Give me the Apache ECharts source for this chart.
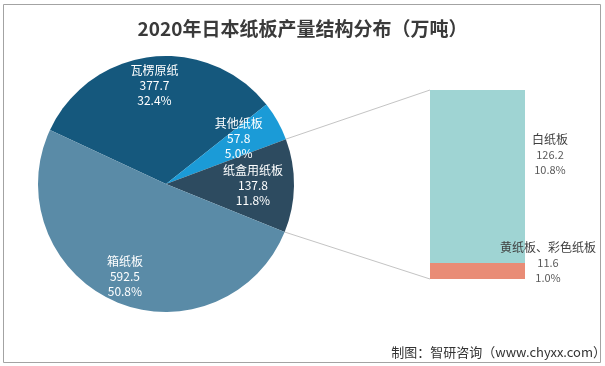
<!DOCTYPE html>
<html><head><meta charset="utf-8">
<script src="https://cdn.jsdelivr.net/npm/echarts@6/dist/echarts.min.js"></script>
<style>html,body{margin:0;padding:0;background:#fff}#c{width:605px;height:366px}</style>
</head><body><div id="c"></div>
<script>
// ---- data ----
const pieNames = ['瓦楞原纸', '其他纸板', '纸盒用纸板', '箱纸板'];
const pieValues = [377.7, 57.8, 137.8, 592.5];
const piePercents = ['32.4%', '5.0%', '11.8%', '50.8%'];
const barNames = ['黄纸板、彩色纸板', '白纸板'];
const barValues = [11.6, 126.2];
const barPercents = ['1.0%', '10.8%'];
const titleText = '2020年日本纸板产量结构分布（万吨）';
const sourceText = '制图：智研咨询（www.chyxx.com）';
const detailIndex = 2; // slice broken down in the bar

// ---- style / layout ----
const FONT = '"Noto Sans CJK SC", "Noto Sans", sans-serif';
const pieColors = ['#15587d', '#1b9bd7', '#2d4b60', '#5a8ba7'];
const barColors = ['#e98c76', '#9fd4d3'];
const CX = 166, CY = 184, R = 128, START = 155;
const labelR = [96, 85, 84, 100];
const labelShift = [[0, 0], [-4, -2], [0, 0], [0, -2]];
const GRID = { left: 430, top: 90, width: 95, height: 189 };
const barLabelDist = [23, 25];
const barLabelOffY = [-8.5, -22];

const chart = echarts.init(document.getElementById('c'), null, { renderer: 'canvas' });
const sum = a => a.reduce((s, v) => s + v, 0);

const series = [{
  type: 'pie', center: [CX, CY], radius: [0, R], startAngle: START, clockwise: true,
  silent: true, animation: false,
  data: pieNames.map((n, i) => ({ name: n, value: pieValues[i], itemStyle: { color: pieColors[i] } })),
  label: { show: false }, labelLine: { show: false }
}];
pieNames.forEach((n, k) => {
  series.push({
    type: 'pie', center: [CX, CY], radius: [2 * labelR[k] - R, R], startAngle: START, clockwise: true,
    silent: true, animation: false, z: 5,
    data: pieNames.map((nm, i) => ({ name: nm, value: pieValues[i], itemStyle: { color: 'rgba(0,0,0,0)' }, label: { show: i === k, offset: labelShift[i] } })),
    label: {
      position: 'inside', fontFamily: FONT, fontSize: 12, lineHeight: 15, color: '#ffffff',
      formatter: p => p.name + '\n' + pieValues[p.dataIndex] + '\n' + piePercents[p.dataIndex]
    },
    labelLine: { show: false }
  });
});
barNames.forEach((n, i) => {
  series.push({
    type: 'bar', stack: 'detail', name: n, data: [barValues[i]], barWidth: '100%',
    xAxisIndex: 0, yAxisIndex: 0, silent: true, animation: false,
    itemStyle: { color: barColors[i] },
    label: {
      show: true, position: 'right', align: 'center', distance: barLabelDist[i], offset: [0, barLabelOffY[i]],
      fontFamily: FONT, lineHeight: 15,
      formatter: () => '{n|' + barNames[i] + '}\n{v|' + barValues[i] + '}\n{v|' + barPercents[i] + '}',
      rich: {
        n: { fontFamily: FONT, fontSize: 12, color: '#3f3f3f', lineHeight: 15 },
        v: { fontFamily: FONT, fontSize: 11, color: '#5a5a5a', lineHeight: 15 }
      }
    }
  });
});

chart.setOption({
  animation: false,
  backgroundColor: '#ffffff',
  title: [
    { text: titleText, left: 'center', top: 14, textStyle: { fontFamily: FONT, fontSize: 19, fontWeight: 'bold', color: '#3a3a3a' } },
    { text: sourceText, right: -6, top: 341, textStyle: { fontFamily: FONT, fontSize: 13, fontWeight: 'normal', color: '#333333' } }
  ],
  grid: GRID,
  xAxis: { type: 'category', data: [''], show: false },
  yAxis: { type: 'value', min: 0, max: sum(barValues), show: false },
  series: series
});

// connector lines from the detailed slice to the bar
const total = sum(pieValues);
const before = sum(pieValues.slice(0, detailIndex));
const a1 = (START - 360 * before / total) * Math.PI / 180;
const a2 = (START - 360 * (before + pieValues[detailIndex]) / total) * Math.PI / 180;
const p1 = [CX + R * Math.cos(a1), CY - R * Math.sin(a1)];
const p2 = [CX + R * Math.cos(a2), CY - R * Math.sin(a2)];
const topPt = chart.convertToPixel({ gridIndex: 0 }, [0, sum(barValues)]);
const botPt = chart.convertToPixel({ gridIndex: 0 }, [0, 0]);
chart.setOption({
  graphic: [
    { type: 'rect', silent: true, shape: { x: 3.5, y: 4.5, width: 597, height: 358 }, style: { fill: 'none', stroke: '#a3a3a3', lineWidth: 1 } },
    { type: 'line', silent: true, shape: { x1: p1[0], y1: p1[1], x2: GRID.left, y2: topPt[1] }, style: { stroke: '#c4c4c4', lineWidth: 1 } },
    { type: 'line', silent: true, shape: { x1: p2[0], y1: p2[1], x2: GRID.left, y2: botPt[1] }, style: { stroke: '#c4c4c4', lineWidth: 1 } }
  ]
});
</script>
</body></html>
